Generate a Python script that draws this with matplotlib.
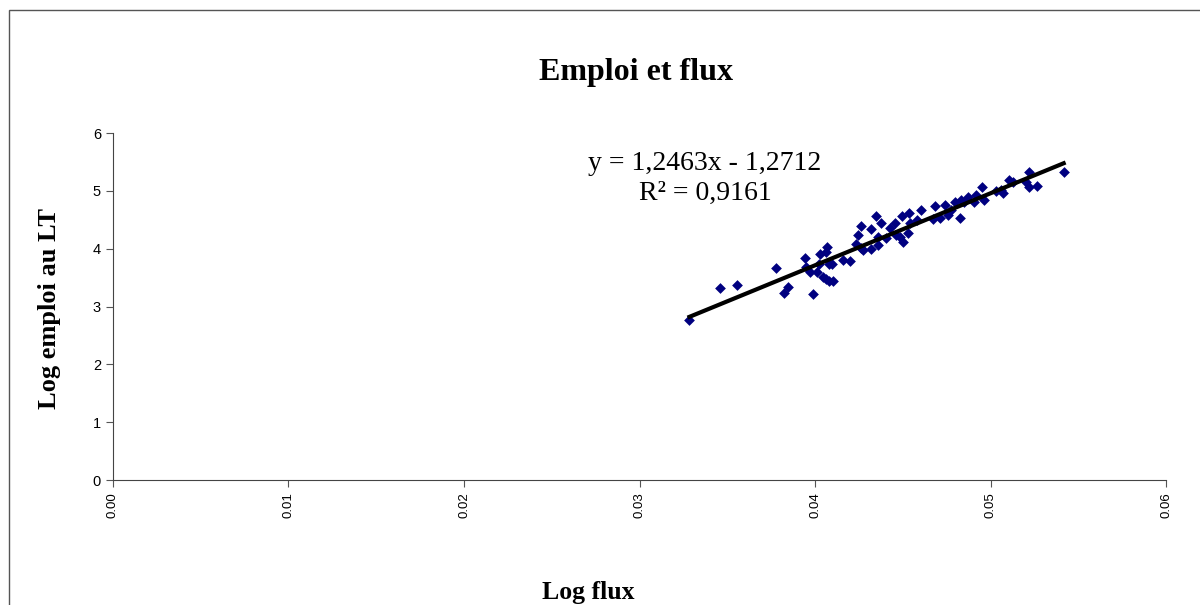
import matplotlib
matplotlib.use("Agg")
import matplotlib.pyplot as plt
import numpy as np
from matplotlib.patches import Rectangle

# data (x as shown on the axis, y = log emploi)
log_flux = [0.03284, 0.03456, 0.03553, 0.03775, 0.03824, 0.03843, 0.03943, 0.0395,
            0.0397, 0.03987, 0.0401, 0.0402, 0.0403, 0.04045, 0.04068, 0.04064,
            0.04064, 0.0408, 0.04097, 0.0408, 0.0410, 0.04157, 0.0420, 0.0423,
            0.0427, 0.0432, 0.0436, 0.04244, 0.0426, 0.0426, 0.0432, 0.04348,
            0.04358, 0.04377, 0.04405, 0.04424, 0.04453, 0.04462, 0.04481, 0.04494,
            0.0450, 0.04528, 0.04534, 0.04538, 0.04581, 0.04604, 0.0467, 0.04684,
            0.04709, 0.04737, 0.04756, 0.04774, 0.04794, 0.04822, 0.04847, 0.04903,
            0.0483, 0.0487, 0.04917, 0.0495, 0.04964, 0.0503, 0.0506, 0.05068,
            0.05106, 0.05125, 0.0520, 0.0522, 0.05216, 0.05263, 0.05415]
log_emploi = [2.77, 3.32, 3.37, 3.67, 3.23, 3.33, 3.84, 3.69,
              3.59, 3.22, 3.60, 3.74, 3.91, 3.51, 4.03, 3.95,
              3.47, 3.74, 3.73, 3.45, 3.45, 3.81, 3.79, 4.08,
              3.98, 4.00, 4.07, 4.24, 4.40, 4.01, 4.34, 4.56,
              4.21, 4.44, 4.18, 4.35, 4.45, 4.24, 4.21, 4.57,
              4.12, 4.27, 4.61, 4.44, 4.49, 4.67, 4.51, 4.74,
              4.53, 4.76, 4.58, 4.67, 4.81, 4.53, 4.81, 4.80,
              4.84, 4.90, 4.93, 5.07, 4.84, 4.99, 5.02, 4.96,
              5.19, 5.16, 5.16, 5.33, 5.06, 5.09, 5.33]

slope = 1.2463
intercept = -1.2712
x_ticks = [0.00, 0.01, 0.02, 0.03, 0.04, 0.05, 0.06]

serif = ["Liberation Serif", "DejaVu Serif"]
sans = ["Liberation Sans", "DejaVu Sans"]

fig = plt.figure(figsize=(12, 6.05), dpi=100)
ax = fig.add_axes([0.094, 0.2066, 0.878, 0.5735])

xs = np.array(log_flux)
ax.scatter(xs, log_emploi, marker="D", s=30, color="#000080", zorder=3, linewidths=0)

# linear trend line (x on the axis is scaled by 1/100 relative to the fit)
xl = np.array([min(xs), max(xs)])
ax.plot(xl, slope * xl * 100 + intercept, color="black", lw=3, zorder=4)

ax.set_xlim(0, 0.06)
ax.set_ylim(0, 6)
ax.set_xticks(x_ticks)
ax.set_xticklabels(["%.2f" % v for v in x_ticks], rotation=90, fontsize=9.5, family=sans)
ax.set_yticks(range(7))
ax.set_yticklabels([str(v) for v in range(7)], fontsize=10.5, family=sans)
ax.tick_params(direction="out", length=5, width=0.8, color="#555555")
for s in ["top", "right"]:
    ax.spines[s].set_visible(False)
for s in ["left", "bottom"]:
    ax.spines[s].set_color("#444444")

fig.text(0.53, 0.88, "Emploi et flux", ha="center", va="center",
         fontsize=23, fontweight="bold", family=serif)
fig.text(0.49, 0.02, "Log flux", ha="center", va="center",
         fontsize=18.5, fontweight="bold", family=serif)
fig.text(0.041, 0.49, "Log emploi au LT", ha="center", va="center", rotation=90,
         fontsize=19, fontweight="bold", family=serif)

fig.text(0.5875, 0.73, "y = 1,2463x - 1,2712", ha="center", va="center",
         fontsize=20, family=serif)
fig.text(0.5875, 0.68, "R² = 0,9161", ha="center", va="center",
         fontsize=20, family=serif)

fig.patches.append(Rectangle((0.0075, -0.01), 1.1, 0.994, transform=fig.transFigure,
                             fill=False, edgecolor="#555555", lw=1))

fig.savefig("out.png", dpi=100)
